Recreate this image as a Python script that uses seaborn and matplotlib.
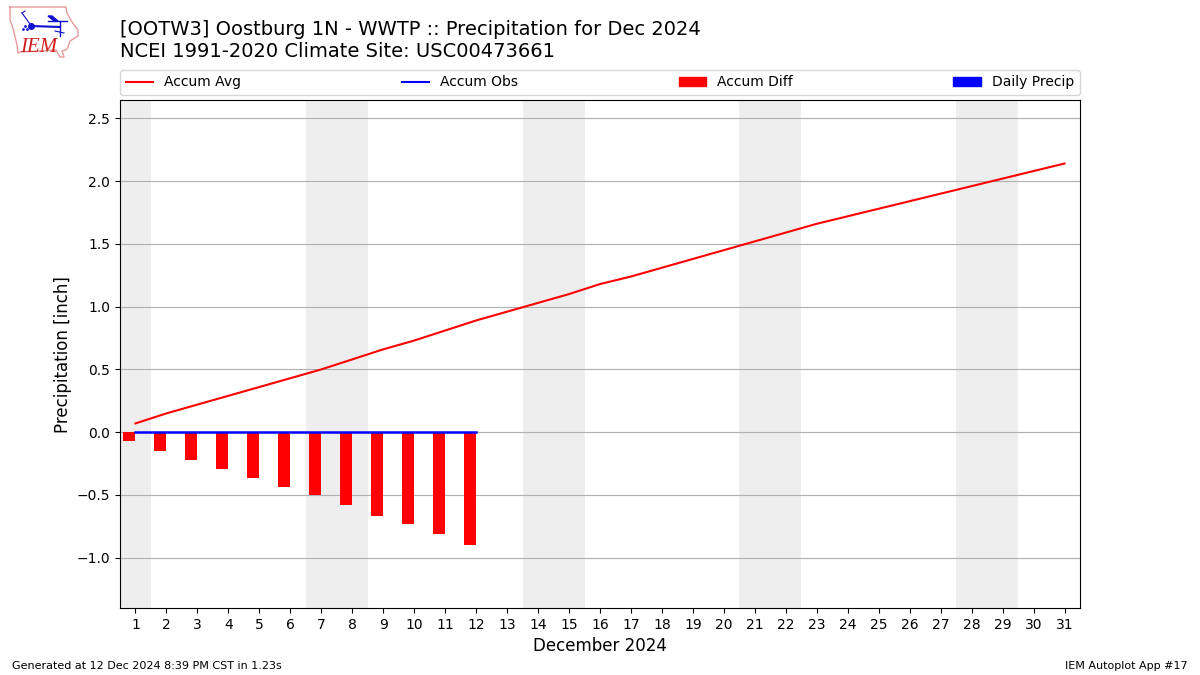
import pandas as pd
import matplotlib
matplotlib.use('Agg')
import matplotlib.pyplot as plt
from matplotlib.patches import Patch
import seaborn as sns

days = list(range(1, 32))
accum_avg = [0.07, 0.15, 0.22, 0.29, 0.36, 0.43, 0.50, 0.58, 0.66, 0.73, 0.81, 0.89,
             0.96, 1.03, 1.10, 1.18, 1.24, 1.31, 1.38, 1.45, 1.52, 1.59, 1.66, 1.72,
             1.78, 1.84, 1.90, 1.96, 2.02, 2.08, 2.14]
obs_days = [1, 2, 3, 4, 5, 6, 7, 8, 9, 10, 11, 12]
accum_obs = [0.0] * 12
accum_diff = [-0.07, -0.15, -0.22, -0.29, -0.365, -0.435, -0.50, -0.58, -0.665, -0.73, -0.81, -0.895]
weekends = [(0.5, 1.5), (6.5, 8.5), (13.5, 15.5), (20.5, 22.5), (27.5, 29.5)]
logo_x = [10, 66, 67, 72, 78, 78, 70, 68, 66, 62, 64, 60, 56, 20, 18, 17, 13, 10, 10]
logo_y = [7, 7, 13, 22, 30, 36, 41, 47, 50, 51, 57, 57, 50, 52, 53, 45, 28, 20, 7]

avg_df = pd.DataFrame({'day': days, 'avg': accum_avg})
obs_df = pd.DataFrame({'day': obs_days, 'obs': accum_obs, 'diff': accum_diff})
obs_df['pos'] = obs_df['day'] - 0.2  # bars sit just left of the day

fig = plt.figure(figsize=(12, 6.75), dpi=100)
ax = fig.add_axes([0.1, 0.0993, 0.8, 0.752])

for start, end in weekends:
    ax.axvspan(start, end, color='#eeeeee', lw=0, zorder=0)

sns.barplot(data=obs_df, x='pos', y='diff', color='red', saturation=1, width=0.4,
            native_scale=True, errorbar=None, ax=ax, zorder=2)
sns.lineplot(data=avg_df, x='day', y='avg', color='red', lw=1.5, ax=ax, zorder=3, errorbar=None)
sns.lineplot(data=obs_df, x='day', y='obs', color='blue', lw=1.8, ax=ax, zorder=3, errorbar=None)

ax.set_xlim(0.5, 31.5)
ax.set_ylim(-1.4, 2.643)
ax.set_xticks(days)
ax.set_xticklabels([str(d) for d in days])
ax.set_yticks([-1.0, -0.5, 0.0, 0.5, 1.0, 1.5, 2.0, 2.5])
ax.grid(axis='y', color='#b0b0b0', lw=0.8)
ax.set_axisbelow(True)
ax.set_xlabel('December 2024', fontsize=12, labelpad=4)
ax.set_ylabel('Precipitation [inch]', fontsize=12, labelpad=3)

handles = [plt.Line2D([], [], color='red', lw=1.5),
           plt.Line2D([], [], color='blue', lw=1.5),
           Patch(color='red'), Patch(color='blue')]
ax.legend(handles, ['Accum Avg', 'Accum Obs', 'Accum Diff', 'Daily Precip'], ncol=4,
          mode='expand', loc='lower left', bbox_to_anchor=(0, 1.0105, 1, 0.05), borderaxespad=0, fontsize=10)

fig.text(0.1, 0.9095, '[OOTW3] Oostburg 1N - WWTP :: Precipitation for Dec 2024\n'
         'NCEI 1991-2020 Climate Site: USC00473661', fontsize=14, va='bottom', ha='left')
fig.text(0.01, 0.0085, 'Generated at 12 Dec 2024 8:39 PM CST in 1.23s', fontsize=8)
fig.text(0.99, 0.0085, 'IEM Autoplot App #17', fontsize=8, ha='right')

# logo, drawn in figure pixels
logo = fig.add_axes([0, 0.9, 0.075, 0.1])
logo.set_xlim(0, 90)
logo.set_ylim(67.5, 0)
logo.axis('off')
logo.plot(logo_x, logo_y, color='#e69a9a', lw=1)
logo.plot([31, 60], [26, 27], color='#1010d0', lw=1.5)
logo.plot([31], [26], 'o', color='#1010d0', ms=4)
logo.plot([30, 22], [24, 13], color='#1010d0', lw=0.8)
logo.plot([22, 25], [13, 11], color='#1010d0', lw=0.8)
logo.plot([48, 67], [21, 21], color='#1010d0', lw=1)
logo.fill([48, 52, 58, 54], [16, 16, 21, 21], color='#1010d0')
logo.plot([60, 60], [21, 36], color='#1010d0', lw=1)
logo.plot([55, 64], [31, 33], color='#1010d0', lw=0.8)
logo.plot([23, 25, 27], [29, 26, 29], '.', color='#1010d0', ms=2)
logo.text(20, 52, 'IEM', color='#d02020', family='Liberation Serif', style='italic', fontsize=15)

fig.savefig('out.png', dpi=100)
